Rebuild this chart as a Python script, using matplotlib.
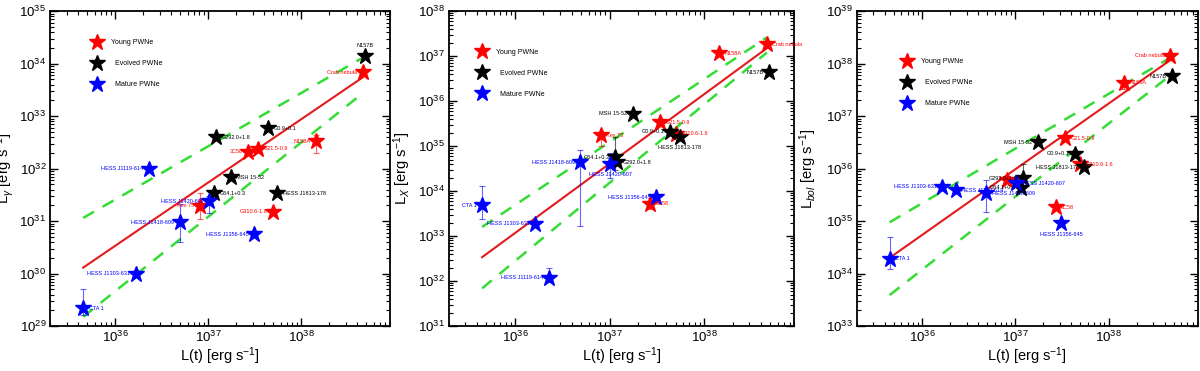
import numpy as np
import matplotlib
matplotlib.use('Agg')
import matplotlib.pyplot as plt
from matplotlib.lines import Line2D
from matplotlib.ticker import NullFormatter

plt.rcParams['font.family'] = ['Liberation Sans', 'DejaVu Sans']
plt.rcParams['mathtext.fontset'] = 'custom'
plt.rcParams['mathtext.rm'] = 'Liberation Sans'
plt.rcParams['mathtext.it'] = 'Liberation Sans:italic'

# sources by class
YOUNG = ['Crab nebula', 'N158A', '3C58', 'G21.5-0.9', 'Kes 75', 'G310.6-1.6']
EVOLVED = ['N157B', 'G0.9+0.1', 'G292.0+1.8', 'MSH 15-52', 'G54.1+0.3', 'HESS J1813-178']
MATURE = ['HESS J1119-614', 'HESS J1420-607', 'HESS J1418-609', 'HESS J1356-645',
          'HESS J1303-631', 'CTA 1']

# spin-down luminosity L(t) [erg/s]
LT_YOUNG = [4.6e38, 1.45e38, 2.7e37, 3.4e37, 8.1e36, 5.0e37]
LT_EVOLVED = [4.8e38, 4.4e37, 1.2e37, 1.75e37, 1.15e37, 5.5e37]
LT_MATURE = [2.3e36, 1.02e37, 4.9e36, 3.1e37, 1.65e36, 4.5e35]

# gamma-ray luminosity
LG_YOUNG = [6.9e33, 3.3e32, 2.1e32, 2.4e32, 1.95e31, 1.5e31]
LG_EVOLVED = [1.4e34, 5.9e32, 4.0e32, 6.9e31, 3.4e31, 3.4e31]
LG_MATURE = [1.0e32, 2.4e31, 9.6e30, 5.6e30, 1.0e30, 2.2e29]

# X-ray luminosity
LX_YOUNG = [1.85e37, 1.17e37, 5.2e33, 3.4e35, 1.75e35, 1.9e35]
LX_EVOLVED = [4.4e36, 2.1e35, 4.4e34, 5.2e35, 5.7e34, 1.6e35]
LX_MATURE = [1.2e32, 4.0e34, 4.4e34, 7.4e33, 1.9e33, 4.9e33]

# bolometric luminosity
LB_YOUNG = [1.4e38, 4.3e37, 1.85e35, 3.8e36, 6.0e35, 1.2e36]
LB_EVOLVED = [5.8e37, 1.9e36, 6.6e35, 3.2e36, 4.3e35, 1.07e36]
LB_MATURE = [3.9e35, 5.3e35, 3.4e35, 9.1e34, 4.5e35, 1.9e34]

# error ranges (low, high)
ERR_G = {'N158A': (2.0e32, 4.4e32), 'Kes 75': (1.1e31, 3.4e31),
         'HESS J1420-607': (1.4e31, 3.0e31), 'HESS J1418-609': (4.0e30, 2.1e31),
         'CTA 1': (1.6e29, 5.2e29)}
ERR_X = {'CTA 1': (2.4e33, 1.3e34), 'HESS J1418-609': (1.7e33, 8.1e34),
         'HESS J1420-607': (2.0e34, 6.9e34), 'G54.1+0.3': (3.0e34, 1.6e35),
         'HESS J1119-614': (9.5e31, 1.95e32), '3C58': (4.0e33, 6.0e33),
         'Kes 75': (1.0e35, 1.9e35)}
ERR_B = {'CTA 1': (1.2e34, 5.0e34), 'HESS J1418-609': (1.5e35, 6.0e35),
         'G292.0+1.8': (4.5e35, 1.2e36), 'N158A': (3.3e37, 4.8e37)}

# fit line and band endpoints
FIT_X = [4.5e35, 4.6e38]
FIT_G = [1.3e30, 5.5e33]
UP_G = [1.15e31, 1.3e34]
LO_G = [1.5e29, 2.75e33]
FIT_X2 = [3.4e32, 1.5e37]
UP_X2 = [1.6e33, 2.6e37]
LO_X2 = [6.9e31, 1.2e37]
FIT_B = [2.0e34, 1.17e38]
UP_B = [9.5e34, 1.3e38]
LO_B = [3.9e33, 6.0e37]

# which side of the star each name goes on
SIDE_G = {'Crab nebula': 'l', 'N157B': 'a', 'N158A': 'l', 'G0.9+0.1': 'r', 'G292.0+1.8': 'r',
          '3C58': 'l', 'G21.5-0.9': 'r', 'MSH 15-52': 'r', 'HESS J1119-614': 'l',
          'G54.1+0.3': 'r', 'HESS J1813-178': 'r', 'HESS J1420-607': 'l', 'Kes 75': 'l',
          'G310.6-1.6': 'l', 'HESS J1418-609': 'l', 'HESS J1356-645': 'l',
          'HESS J1303-631': 'l', 'CTA 1': 'r'}
SIDE_X = {'Crab nebula': 'r', 'N157B': 'l', 'N158A': 'r', 'MSH 15-52': 'l', 'G21.5-0.9': 'r',
          'G0.9+0.1': 'l', 'G310.6-1.6': 'r', 'HESS J1813-178': 'b', 'Kes 75': 'r',
          'G54.1+0.3': 'l', 'G292.0+1.8': 'r', 'HESS J1420-607': 'b', 'HESS J1418-609': 'l',
          'CTA 1': 'l', 'HESS J1303-631': 'l', 'HESS J1119-614': 'l', 'HESS J1356-645': 'l',
          '3C58': 'r'}
SIDE_B = {'Crab nebula': 'l', 'N157B': 'l', 'N158A': 'r', 'G21.5-0.9': 'r', 'MSH 15-52': 'l',
          'G0.9+0.1': 'l', 'G310.6-1.6': 'r', 'HESS J1813-178': 'l', 'Kes 75': None,
          'G292.0+1.8': 'l', 'G54.1+0.3': 'l', 'HESS J1420-607': 'r', 'HESS J1418-609': 'r',
          'HESS J1303-631': 'l', 'HESS J1119-614': 'r', '3C58': 'r', 'HESS J1356-645': 'b',
          'CTA 1': 'r'}

RED, BLACK, BLUE = '#ff0000', '#000000', '#0000ff'
GREEN = '#33dd33'

OFFS = {'r': ((4, 0), 'left', 'center'), 'l': ((-4, 0), 'right', 'center'),
        'a': ((0, 6), 'center', 'bottom'), 'b': ((0, -6), 'center', 'top')}

panels = [
    dict(rect=[0.042, 0.121, 0.283, 0.849], ylim=(1e29, 1e35), ylabel=r'L$_\gamma$ [erg s$^{-1}$]',
         y=(LG_YOUNG, LG_EVOLVED, LG_MATURE), err=ERR_G, side=SIDE_G,
         fit=(FIT_G, UP_G, LO_G), leg=(0.125, 0.91), ylab_x=-0.1),
    dict(rect=[0.374, 0.121, 0.288, 0.849], ylim=(1e31, 1e38), ylabel=r'L$_X$ [erg s$^{-1}$]',
         y=(LX_YOUNG, LX_EVOLVED, LX_MATURE), err=ERR_X, side=SIDE_X,
         fit=(FIT_X2, UP_X2, LO_X2), leg=(0.085, 0.88), ylab_x=-0.105),
    dict(rect=[0.714, 0.121, 0.284, 0.849], ylim=(1e33, 1e39), ylabel=r'L$_{bol}$ [erg s$^{-1}$]',
         y=(LB_YOUNG, LB_EVOLVED, LB_MATURE), err=ERR_B, side=SIDE_B,
         fit=(FIT_B, UP_B, LO_B), leg=(0.135, 0.85), ylab_x=-0.11),
]

fig = plt.figure(figsize=(12, 3.71), dpi=100)

for p in panels:
    ax = fig.add_axes(p['rect'])
    ax.set_xscale('log')
    ax.set_yscale('log')

    fit, up, lo = p['fit']
    ax.plot(FIT_X, up, '--', color=GREEN, lw=1.8, dashes=(5, 4), zorder=1)
    ax.plot(FIT_X, lo, '--', color=GREEN, lw=1.8, dashes=(5, 4), zorder=1)
    ax.plot(FIT_X, fit, '-', color='#e41a1c', lw=1.5, zorder=2)

    groups = [(YOUNG, LT_YOUNG, p['y'][0], RED),
              (EVOLVED, LT_EVOLVED, p['y'][1], BLACK),
              (MATURE, LT_MATURE, p['y'][2], BLUE)]
    for names, xs, ys, col in groups:
        for name, xv, yv in zip(names, xs, ys):
            if name in p['err']:
                elo, ehi = p['err'][name]
                ax.errorbar([xv], [yv], yerr=[[yv - elo], [ehi - yv]], fmt='none',
                            ecolor=col, elinewidth=0.8, capsize=2.5, capthick=0.8,
                            alpha=0.6, zorder=3)
        ax.plot(xs, ys, '*', color=col, ms=12, mec=col, ls='none', zorder=4)
        for name, xv, yv in zip(names, xs, ys):
            side = p['side'].get(name, 'r')
            if side is None:
                continue
            off, ha, va = OFFS[side]
            ax.annotate(name, (xv, yv), xytext=off, textcoords='offset points',
                        ha=ha, va=va, fontsize=4, color=col, zorder=5)

    handles = [Line2D([], [], marker='*', ls='none', color=c, ms=12)
               for c in (RED, BLACK, BLUE)]
    ax.legend(handles, ['Young PWNe', '  Evolved PWNe', '  Mature PWNe'],
              loc='upper left', bbox_to_anchor=p['leg'], frameon=False, fontsize=5,
              borderpad=0, borderaxespad=0, handlelength=1.2, handletextpad=1.4,
              labelspacing=2.0)

    ax.set_xlim(2e35, 9e38)
    ax.set_ylim(*p['ylim'])
    ax.xaxis.set_minor_formatter(NullFormatter())
    ax.yaxis.set_minor_formatter(NullFormatter())
    ax.set_xlabel(r'L(t) [erg s$^{-1}$]', fontsize=10.5, labelpad=0)
    ax.set_ylabel(p['ylabel'], fontsize=10.5)
    ax.yaxis.set_label_coords(p['ylab_x'], 0.5)
    ax.tick_params(which='both', direction='in', top=True, right=True, labelsize=9.5)
    ax.tick_params(which='major', length=6, width=1, pad=3)
    ax.tick_params(which='minor', length=3, width=0.8)
    for s in ax.spines.values():
        s.set_linewidth(1.3)

fig.savefig('out.png', dpi=100)
